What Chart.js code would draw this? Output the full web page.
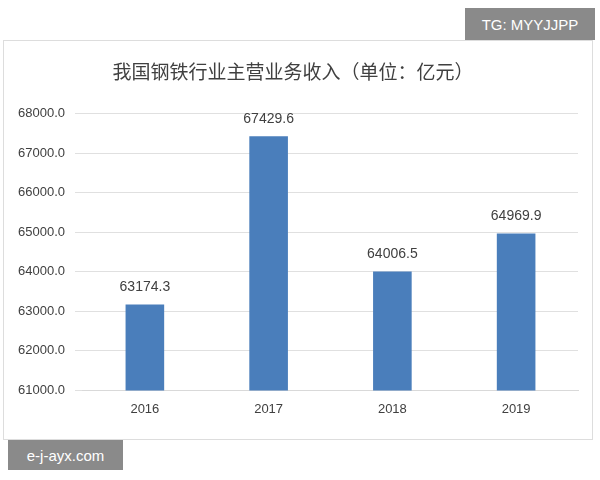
<!DOCTYPE html>
<html><head><meta charset="utf-8">
<script src="https://cdn.jsdelivr.net/npm/chart.js@4/dist/chart.umd.min.js"></script>
<style>
body{margin:0;background:#fff;width:600px;height:480px;position:relative;overflow:hidden;font-family:"Noto Sans CJK SC",sans-serif}
#frame{position:absolute;left:3px;top:40px;width:590px;height:400px;border:1px solid #ddd;box-sizing:border-box}
#wrap{position:absolute;left:0;top:40px;width:596px;height:400px}
.tag{position:absolute;background:#8a8a8a;color:#fff;font-family:"Liberation Sans",sans-serif;font-size:15px;display:flex;align-items:center;justify-content:center}
</style></head><body>
<div id="frame"></div>
<div id="wrap"><canvas id="c"></canvas></div>
<div class="tag" style="left:465px;top:8px;width:130px;height:32px">TG: MYYJJPP</div>
<div class="tag" style="left:8px;top:440px;width:115px;height:30px">e-j-ayx.com</div>
<script>
const categories=["2016","2017","2018","2019"];
const revenue=[63174.3,67429.6,64006.5,64969.9];
const labelPlugin={id:'lbl',afterDatasetsDraw(ch){const ctx=ch.ctx;ctx.save();ctx.font='14px "Liberation Sans"';ctx.fillStyle='#404040';ctx.textAlign='center';ctx.textBaseline='bottom';
ch.getDatasetMeta(0).data.forEach((b,i)=>ctx.fillText(revenue[i].toFixed(1),b.x,b.y-10));ctx.restore();}};
new Chart(document.getElementById('c'),{type:'bar',
data:{labels:categories,datasets:[{data:revenue,backgroundColor:'#4a7ebb',categoryPercentage:0.8,barPercentage:0.39}]},
options:{responsive:true,maintainAspectRatio:false,animation:false,
layout:{padding:{left:8,right:18,top:0,bottom:20}},
plugins:{legend:{display:false},tooltip:{enabled:false},
title:{display:true,text:'我国钢铁行业主营业务收入（单位：亿元）',color:'#404040',font:{family:'"Noto Sans CJK SC"',size:19,weight:'normal'},padding:{top:20,bottom:31}}},
scales:{x:{grid:{display:false},border:{color:'#d9d9d9'},ticks:{color:'#404040',font:{family:'"Liberation Sans"',size:13}}},
y:{min:61000,max:68000,border:{display:false},grid:{color:'#e0e0e0'},ticks:{stepSize:1000,color:'#404040',padding:10,font:{family:'"Liberation Sans"',size:13},callback:v=>v.toFixed(1)}}}},
plugins:[labelPlugin]});
</script></body></html>
